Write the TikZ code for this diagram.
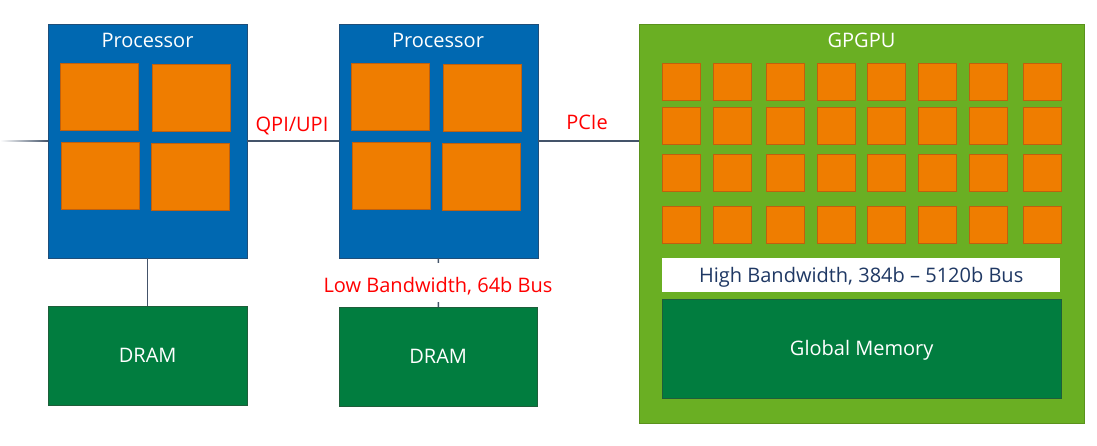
\documentclass[tikz,border=0pt]{standalone}
\usepackage{fontspec}
\setmainfont{Open Sans}
\definecolor{procblue}{HTML}{0068B1}
\definecolor{procedge}{HTML}{1F4E79}
\definecolor{coreorange}{HTML}{EF7D00}
\definecolor{coreedge}{HTML}{C0600E}
\definecolor{memgreen}{HTML}{017D3F}
\definecolor{memedge}{HTML}{1E5E3A}
\definecolor{gpugreen}{HTML}{6AAF23}
\definecolor{gpuedge}{HTML}{5A921C}
\definecolor{linkgray}{HTML}{44546A}
\definecolor{busblue}{HTML}{1F3864}
\begin{document}
\begin{tikzpicture}[x=1pt, y=-1pt, font=\fontsize{20}{24}\selectfont,
	box/.style={draw, anchor=north west, inner sep=0, text height=14.3pt, text depth=0pt},
	cpu/.style={box, draw=procedge, fill=procblue, minimum width=199, minimum height=234},
	core/.style={box, draw=coreedge, fill=coreorange, line width=1},
	pcore/.style={core, minimum width=78, minimum height=67},
	gcore/.style={core, minimum width=38, minimum height=37},
	mem/.style={box, draw=memedge, fill=memgreen, text=white, minimum height=99},
	ttl/.style={text=white, inner sep=0},
	lbl/.style={text=red, anchor=base, inner sep=0},
	link/.style={draw=linkgray, line width=1.5}]
	\useasboundingbox (0,0) rectangle (1097,446);
	\node[cpu] (p1) at (48,24) {};
	\node[cpu] (p2) at (339,24) {};
	\node[ttl] (t1) at (147.5,40) {Processor};
	\node[ttl] (t2) at (438,40) {Processor};
	\node[pcore] (a1) at (60,63) {};
	\node[pcore] (a2) at (152,64) {};
	\node[pcore] (a3) at (61,142) {};
	\node[pcore] (a4) at (151,143) {};
	\node[pcore] (b1) at (351,63) {};
	\node[pcore] (b2) at (443,64) {};
	\node[pcore] (b3) at (352,142) {};
	\node[pcore] (b4) at (442,143) {};
	\node[mem, minimum width=199] (d1) at (48,306) {DRAM};
	\node[mem, minimum width=198] (d2) at (339,307) {DRAM};

	\node[box, draw=gpuedge, fill=gpugreen, minimum width=445, minimum height=399] (gpu) at (639,24) {};
	\node[ttl] (t3) at (861.5,40) {GPGPU};
	\foreach \x [count=\i] in {662,713,766,817,867,918,969,1023}
		\foreach \y [count=\j] in {63,107,154,206}
			\node[gcore] (g\i\j) at (\x,\y) {};
	\node[box, draw=none, fill=white, text=busblue, minimum width=398, minimum height=34,
		text height=19pt, text depth=5pt] (bus) at (662,258) {High Bandwidth, 384b -- 5120b Bus};
	\node[mem, minimum width=399] (gm) at (662,299) {Global Memory};

	\coordinate (w) at (0,141);
	\shade[left color=white, right color=linkgray] ([yshift=0.75pt]w) rectangle ([yshift=-0.75pt]p1.west);
	\draw[link] (p1) -- (p2);
	\draw[link] (p2) -- (p2 -| gpu.west);
	\draw[link] (p1) -- (d1);
	\draw[link] (p2) -- (d2);
	\node[lbl] (qpi) at (292,132) {QPI/UPI};
	\node[lbl] (pcie) at (587,130) {PCIe};
	\node[lbl, fill=white, text height=29pt, text depth=10pt] (lowbw) at (438,292) {Low Bandwidth, 64b Bus};
\end{tikzpicture}
\end{document}
